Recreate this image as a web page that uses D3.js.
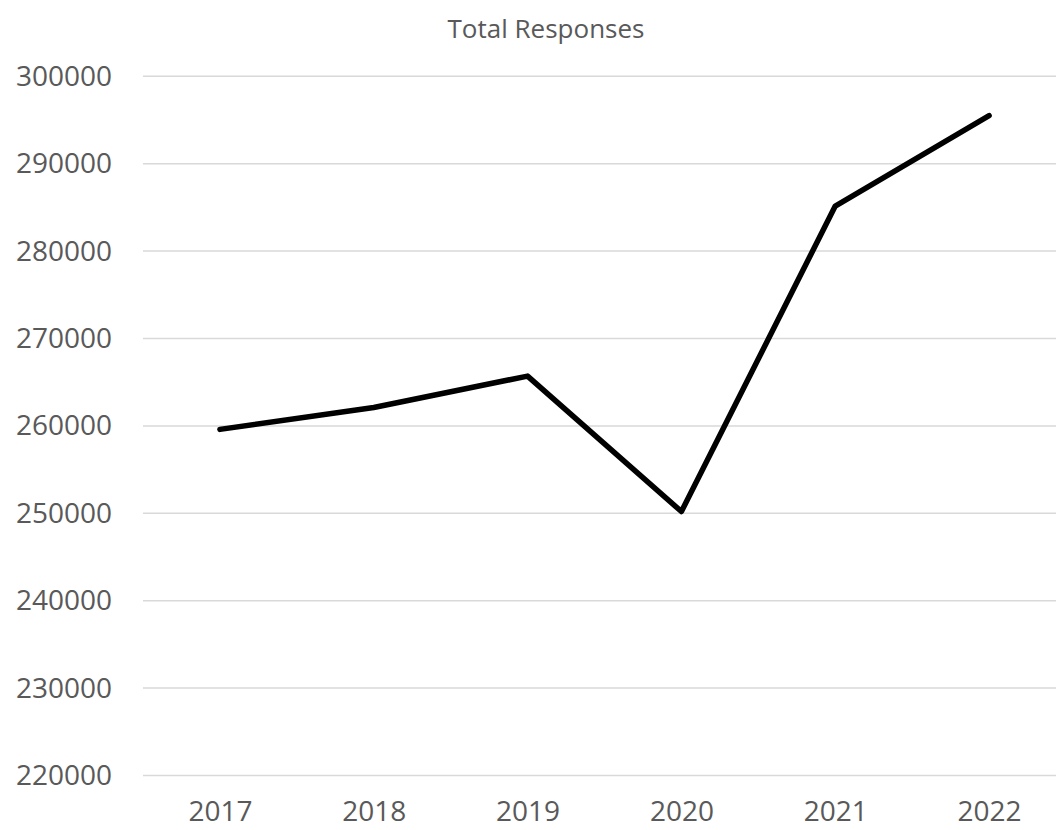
<!DOCTYPE html>
<html>
<head>
<meta charset="utf-8">
<script src="https://cdn.jsdelivr.net/npm/d3@7"></script>
<style>
  html, body { margin: 0; padding: 0; background: #ffffff; }
  svg { display: block; }
  text { font-family: "Open Sans", Lato, sans-serif; fill: #595959; }
</style>
</head>
<body>
<svg id="chart" width="1056" height="830"></svg>
<script>
// Survey totals by year
const years = ["2017", "2018", "2019", "2020", "2021", "2022"];
const responses = [259600, 262100, 265700, 250200, 285150, 295500];
const yTicks = [220000, 230000, 240000, 250000, 260000, 270000, 280000, 290000, 300000];
const title = "Total Responses";

const width = 1056, height = 830;
const plot = { left: 143, right: 1066, top: 76.3, bottom: 775.5 };

const svg = d3.select("#chart");

const x = d3.scalePoint()
  .domain(years)
  .range([plot.left, plot.right])
  .padding(0.5);

const y = d3.scaleLinear()
  .domain([220000, 300000])
  .range([plot.bottom, plot.top]);

// Horizontal gridlines
svg.append("g")
  .selectAll("line")
  .data(yTicks)
  .join("line")
  .attr("x1", plot.left)
  .attr("x2", plot.right)
  .attr("y1", d => y(d))
  .attr("y2", d => y(d))
  .attr("stroke", "#d9d9d9")
  .attr("stroke-width", 1.5);

// Y axis labels
const yAxis = svg.append("g")
  .attr("transform", `translate(${plot.left - 31},0)`)
  .call(d3.axisLeft(y).tickValues(yTicks).tickFormat(d3.format("d")).tickSize(0).tickPadding(0));
yAxis.select(".domain").remove();
yAxis.selectAll("text")
  .attr("font-size", 28)
  .attr("font-family", "'Open Sans', Lato, sans-serif")
  .attr("fill", "#595959");

// X axis labels
const xAxis = svg.append("g")
  .attr("transform", `translate(0,${plot.bottom})`)
  .call(d3.axisBottom(x).tickSize(0).tickPadding(26));
xAxis.select(".domain").remove();
xAxis.selectAll("text")
  .attr("font-size", 28)
  .attr("font-family", "'Open Sans', Lato, sans-serif")
  .attr("fill", "#595959");

// Series line
const line = d3.line()
  .x((d, i) => x(years[i]))
  .y(d => y(d));

svg.append("path")
  .datum(responses)
  .attr("d", line)
  .attr("fill", "none")
  .attr("stroke", "#000000")
  .attr("stroke-width", 5.5)
  .attr("stroke-linecap", "round")
  .attr("stroke-linejoin", "round");

// Title
svg.append("text")
  .attr("x", 546)
  .attr("y", 38)
  .attr("text-anchor", "middle")
  .attr("font-size", 26)
  .text(title);
</script>
</body>
</html>
